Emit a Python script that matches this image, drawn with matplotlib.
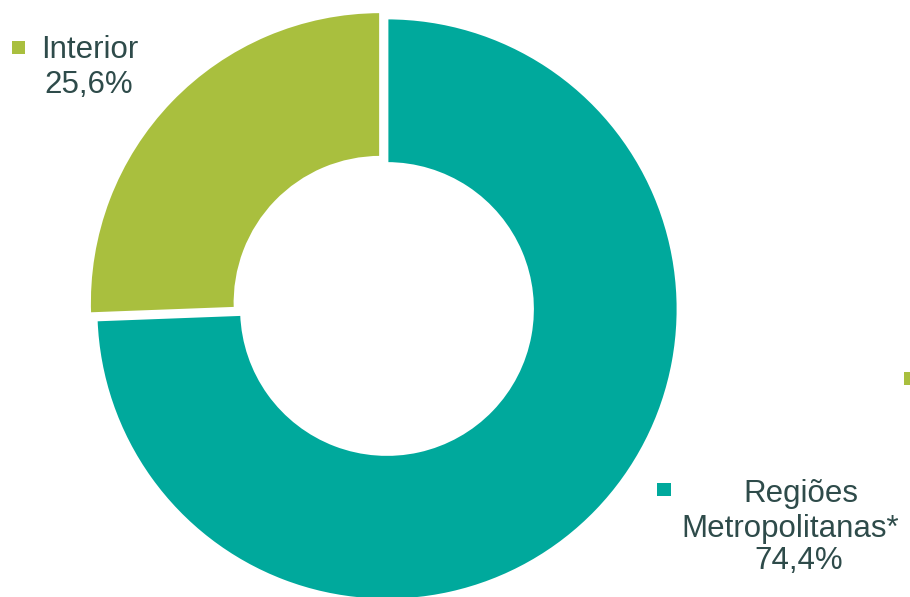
import matplotlib
matplotlib.use("Agg")
import matplotlib.pyplot as plt
from matplotlib.patches import Rectangle

categories = ["Interior", "Regiões Metropolitanas*"]
values = [25.6, 74.4]
value_labels = ["25,6%", "74,4%"]
colors = ["#A9BF3E", "#00A99C"]
text_color = "#2E4B4A"

plt.rcParams['font.family'] = ['Liberation Sans', 'DejaVu Sans']

W, H = 910, 597
fig = plt.figure(figsize=(W / 100, H / 100), dpi=100)
ax = fig.add_axes([0, 0, 1, 1])

cx, cy, R = 387, H - 309, 291
ax.pie(values, colors=colors, startangle=90, counterclock=True,
       center=(cx, cy), radius=R, explode=[9, 0],
       wedgeprops=dict(width=R * 0.5, edgecolor='white', linewidth=2),
       frame=True)
ax.set_xlim(0, W)
ax.set_ylim(0, H)
ax.set_aspect('equal')
ax.axis('off')

fs = 22.5
# Interior label
ax.add_patch(Rectangle((12, H - 54), 13, 13, color=colors[0], lw=0))
ax.text(41, H - 50, categories[0], fontsize=fs, color=text_color, ha='left', va='center')
ax.text(44, H - 85, value_labels[0], fontsize=fs, color=text_color, ha='left', va='center')

# Metropolitan label
ax.add_patch(Rectangle((657, H - 496), 14, 13, color=colors[1], lw=0))
ax.text(801, H - 494, "Regiões", fontsize=fs, color=text_color, ha='center', va='center')
ax.text(790, H - 529, "Metropolitanas*", fontsize=fs, color=text_color, ha='center', va='center')
ax.text(799, H - 561, value_labels[1], fontsize=fs, color=text_color, ha='center', va='center')

# partially visible marker at right edge
ax.add_patch(Rectangle((904, H - 385), 13, 13, color=colors[0], lw=0, clip_on=True))

fig.savefig("out.png", dpi=100)
